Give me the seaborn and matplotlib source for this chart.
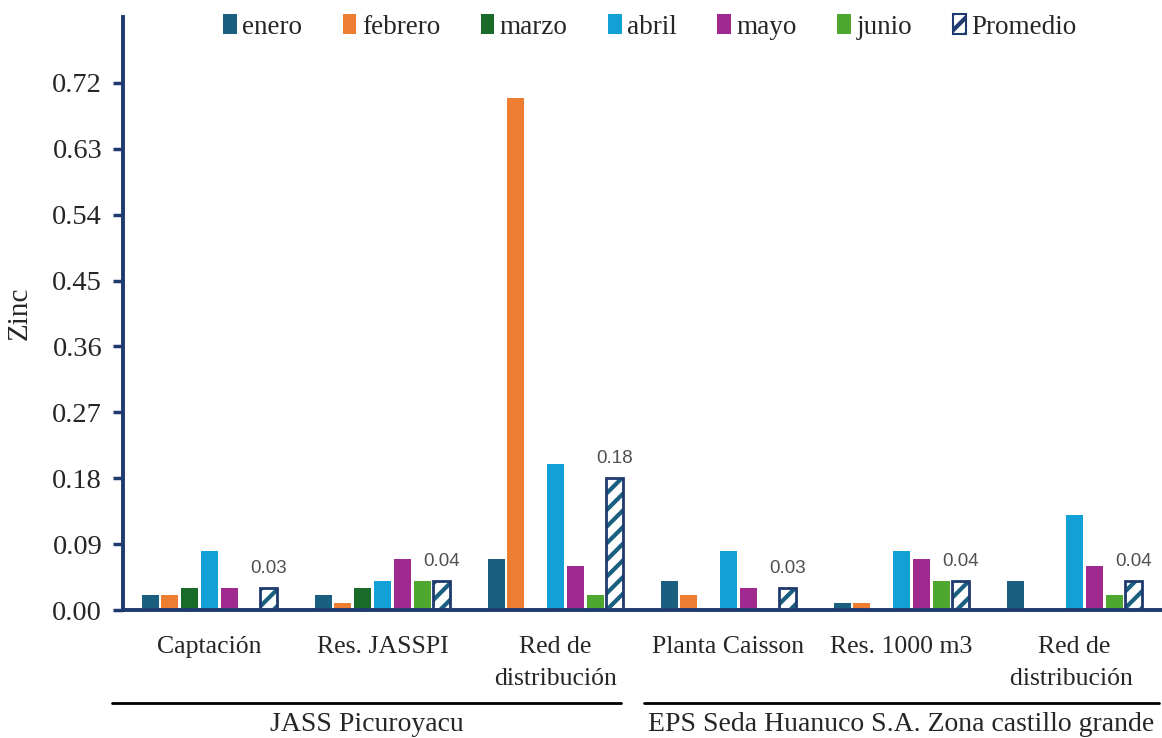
import numpy as np
import pandas as pd
import matplotlib
matplotlib.use("Agg")
import matplotlib.pyplot as plt
from matplotlib.patches import Patch, Rectangle
from matplotlib.lines import Line2D
import matplotlib.transforms as mtransforms
import seaborn as sns

# Sampling points and months
points = ["Captación", "Res. JASSPI", "Red de\ndistribución",
          "Planta Caisson", "Res. 1000 m3", "Red de\ndistribución "]
months = ["enero", "febrero", "marzo", "abril", "mayo", "junio", "Promedio"]

# Zinc concentration per month at each point
enero    = [0.02, 0.02, 0.07, 0.04, 0.01, 0.04]
febrero  = [0.02, 0.01, 0.70, 0.02, 0.01, 0.00]
marzo    = [0.03, 0.03, 0.00, 0.00, 0.00, 0.00]
abril    = [0.08, 0.04, 0.20, 0.08, 0.08, 0.13]
mayo     = [0.03, 0.07, 0.06, 0.03, 0.07, 0.06]
junio    = [0.00, 0.04, 0.02, 0.00, 0.04, 0.02]
promedio = [0.03, 0.04, 0.18, 0.03, 0.04, 0.04]

groups = ["JASS Picuroyacu", "EPS Seda Huanuco S.A. Zona castillo grande"]

yticks = [0.00, 0.09, 0.18, 0.27, 0.36, 0.45, 0.54, 0.63, 0.72]

series = [enero, febrero, marzo, abril, mayo, junio, promedio]
df = pd.DataFrame({
    "punto": np.tile(points, len(months)),
    "mes": np.repeat(months, len(points)),
    "zinc": np.concatenate(series),
})

colors = ["#1a5f80", "#ed7d31", "#1a6b2a", "#12a0d7", "#a0298f", "#4ea72e", "#ffffff"]
navy = "#1f3a6e"
hatch_col = "#1a5f80"

sns.set_theme(style="white")
plt.rcParams["font.family"] = ["Liberation Serif", "DejaVu Serif"]
plt.rcParams["hatch.linewidth"] = 3.0

fig = plt.figure(figsize=(11.62, 7.38), dpi=100)
ax = fig.add_axes([123 / 1162, 1 - 610 / 738, (1161 - 123) / 1162, (610 - 17) / 738])

sns.barplot(data=df, x="punto", y="zinc", hue="mes", order=points, hue_order=months,
            palette=colors, width=0.8, gap=0.14, legend=False, ax=ax,
            linewidth=0, saturation=1)

# Average bars: hatched white with a navy outline and value labels
prom_container = ax.containers[len(months) - 1]
for bar, val in zip(prom_container, promedio):
    bar.set_facecolor("white")
    bar.set_hatch("//")
    bar.set_edgecolor(hatch_col)
    bar.set_linewidth(0)
    ax.add_patch(Rectangle(bar.get_xy(), bar.get_width(), bar.get_height(),
                           fill=False, edgecolor=navy, linewidth=2.0, zorder=3))
    ax.annotate(f"{val:.2f}", (bar.get_x() + bar.get_width() / 2, val),
                xytext=(0, 8), textcoords="offset points", ha="center", va="bottom",
                fontsize=13.5, color="#505050", family="Liberation Sans")

ax.set_xlim(-0.5, 5.5)
ax.set_ylim(0, 0.81)
ax.set_yticks(yticks)
ax.set_yticklabels([f"{t:.2f}" for t in yticks])
ax.set_xlabel("")
ax.set_ylabel("Zinc", fontsize=21, labelpad=14)

for side in ["top", "right"]:
    ax.spines[side].set_visible(False)
for side in ["left", "bottom"]:
    ax.spines[side].set_color(navy)
    ax.spines[side].set_linewidth(2.8)

ax.tick_params(axis="y", which="major", direction="out", length=7, width=2.5,
               color=navy, labelsize=20.5, pad=8, left=True)
ax.tick_params(axis="x", which="major", length=0, labelsize=18.5, pad=19)
for lbl in ax.get_xticklabels():
    lbl.set_linespacing(1.55)

# Station groups below the tick labels
trans = mtransforms.blended_transform_factory(ax.transData, ax.transAxes)
spans = [(-0.565, 2.38), (2.51, 5.49)]
for name, (x0, x1) in zip(groups, spans):
    ax.add_line(Line2D([x0, x1], [-0.157, -0.157], transform=trans, color="black",
                       linewidth=2.0, clip_on=False))
    ax.text((x0 + x1) / 2, -0.193, name, transform=trans, ha="center", va="center",
            fontsize=20)

handles = [Patch(facecolor=c, edgecolor="none") for c in colors[:-1]]
handles.append(Patch(facecolor="white", edgecolor=navy, hatch="//", linewidth=1.5))
fig.legend(handles, months, loc="center", bbox_to_anchor=(650 / 1162, 1 - 27 / 738),
           ncol=7, frameon=False, fontsize=19.5, handlelength=0.5, handleheight=0.75,
           handletextpad=0.2, columnspacing=1.5)

fig.savefig("out.png", dpi=100)
